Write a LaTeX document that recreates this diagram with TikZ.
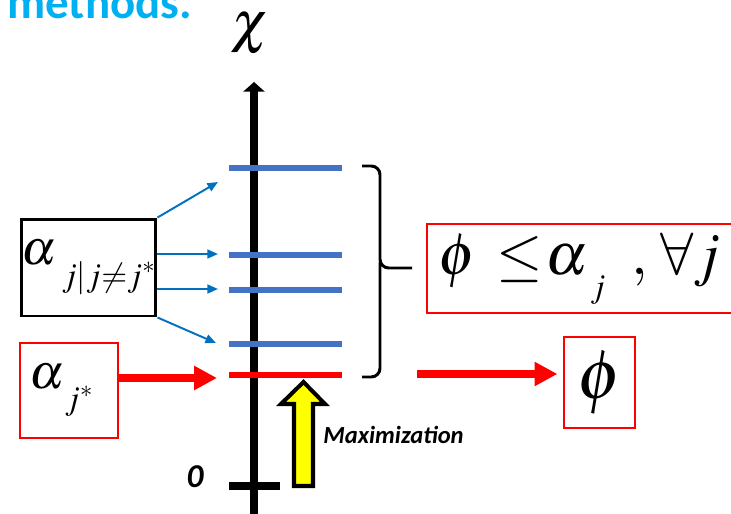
\documentclass[tikz,border=0pt]{standalone}
\usepackage[no-math]{fontspec}
\usepackage{mathptmx}
\newfontfamily\calibri{Carlito}
\usepackage{tikz}
\usetikzlibrary{arrows.meta,positioning,calc}
\definecolor{TitleBlue}{RGB}{0,176,240}
\definecolor{BarBlue}{RGB}{68,114,196}
\definecolor{ArrBlue}{RGB}{0,112,192}
\definecolor{MaxRed}{RGB}{255,0,0}
\definecolor{MaxYellow}{RGB}{255,255,0}
\newcommand{\lowsub}[2][12pt]{\raisebox{-#1}{\fontsize{19}{20}\selectfont$#2$}}

\begin{document}
\begin{tikzpicture}[x=0.02cm,y=-0.02cm,
  bbox/.style={draw=black,line width=1.7pt,minimum width=2.7cm,minimum height=1.94cm,inner sep=0pt},
  rbox/.style={draw=MaxRed,line width=1.5pt,inner sep=0pt},
  bar/.style={BarBlue,line width=3.6pt},
  rbar/.style={MaxRed,line width=3.6pt},
  barr/.style={->,>={Triangle[length=6pt,width=5pt]},ArrBlue,line width=1.1pt},
  rarr/.style={->,>={Triangle[length=13pt,width=13pt]},MaxRed,line width=4.5pt},
  mfont/.style={font=\fontsize{28}{30}\selectfont},
]
\useasboundingbox (0,0) rectangle (731,514);
\clip (0,0) rectangle (731,514);

% title and axis label
\node[anchor=base west,inner sep=0pt,text=TitleBlue,font=\calibri\bfseries\fontsize{26.7}{30}\selectfont] (title) at (7,18) {methods.};
\node[font=\fontsize{33}{35}\selectfont] (chi) at (250,34) {$\chi$};

% axis
\draw[line width=4.6pt,-{Triangle[length=5.5pt,width=12pt]}] (254,514) -- (254,82);
\draw[line width=4pt] (229,486) -- (280,486);
\node[anchor=base,inner sep=0pt,font=\calibri\bfseries\itshape\fontsize{19}{20}\selectfont] (zero) at (195,487) {0};

% levels
\coordinate (b1) at (229,168);
\coordinate (b2) at (229,255);
\coordinate (b3) at (229,290);
\coordinate (b4) at (229,344);
\coordinate (b5) at (229,375);
\foreach \b in {b1,b2,b3,b4}
  \draw[bar] (\b) -- ++(113,0);
\draw[rbar] (b5) -- ++(113,0);

% boxes
\node[bbox,mfont] (others) at (88.5,267.5) {$\alpha$\hspace{3pt}\lowsub{j|j{\neq}j^{*}}};
\node[rbox,mfont,minimum width=1.96cm,minimum height=1.9cm] (star) at (69,390.5) {$\alpha$\lowsub{j^{*}}\hspace*{0.3cm}};
\node[rbox,minimum height=1.78cm,inner xsep=0.22cm,font=\fontsize{34}{36}\selectfont] (cons) at (586,268.5)
  {\makebox[5.92cm][l]{$\phi$\hspace{12pt}$\le$\hspace{1.5pt}$\alpha$\hspace{1pt}\lowsub[13pt]{j}\hspace{15pt}$,$\hspace{7pt}$\forall j$}};
\node[rbox,minimum width=1.42cm,minimum height=1.82cm,font=\fontsize{40}{42}\selectfont] (phi) at (599.5,382.5) {$\phi$};

% connectors
\coordinate (t1) at (218,182);
\coordinate (t2) at (218,254);
\coordinate (t3) at (218,289);
\coordinate (t4) at (216,343);
\draw[barr] (others.north east) -- (t1);
\draw[barr] (others.east |- t2) -- (t2);
\draw[barr] (others.east |- t3) -- (t3);
\draw[barr] (others.south east) -- (t4);
\coordinate (r1) at (217,378);
\draw[rarr] (star.east |- r1) -- (r1);
\coordinate (rs) at (417,374);
\draw[rarr,shorten >=3pt] (rs) -- (rs -| phi.west);

% brace
\coordinate (br) at (412,268);
\draw[line width=1.7pt,rounded corners=5pt] (362,166) -- (380,166) -- (380,268) -- (br);
\draw[line width=1.7pt,rounded corners=5pt] (380,262) -- (380,377) -- (362,377);

% maximization arrow
\draw[line width=2.3pt,fill=MaxYellow,line join=miter] (294,486) -- (294,404) -- (281,404) -- (303.5,382)
  -- (325,404) -- (313,404) -- (313,486) -- cycle;
\node[anchor=base west,inner sep=0pt,font=\calibri\bfseries\itshape\fontsize{14}{16}\selectfont] (maxlbl) at (323,443) {Maximization};
\end{tikzpicture}
\end{document}
